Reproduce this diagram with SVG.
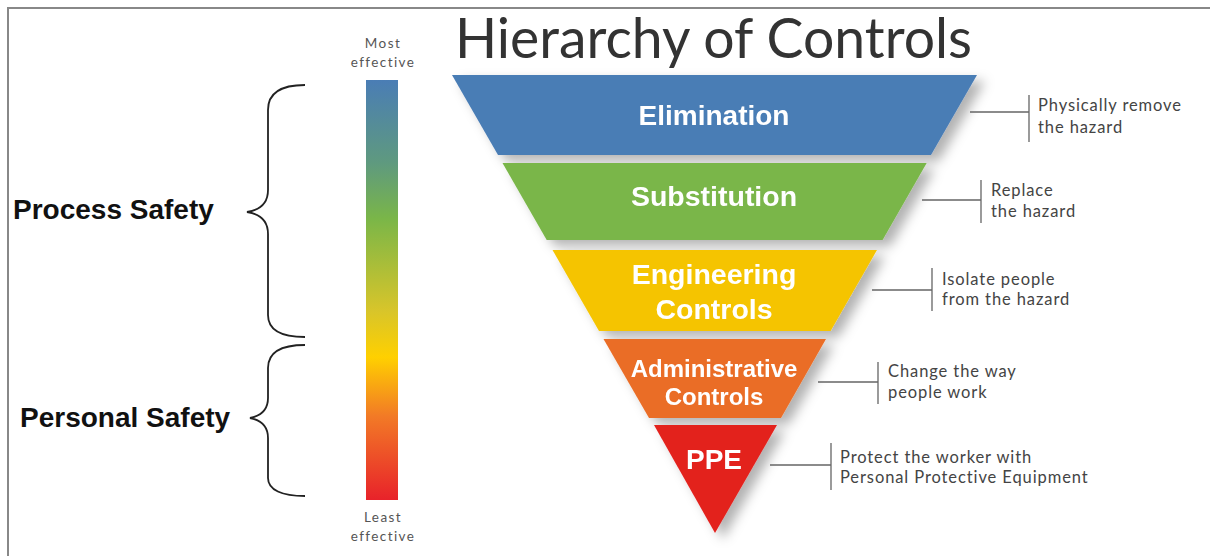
<svg xmlns="http://www.w3.org/2000/svg" width="1210" height="556" viewBox="0 0 1210 556">
<defs>
<linearGradient id="bar" x1="0" y1="0" x2="0" y2="1">
<stop offset="0" stop-color="#4a7db5"/>
<stop offset="0.2" stop-color="#5f9a7e"/>
<stop offset="0.33" stop-color="#7ab648"/>
<stop offset="0.55" stop-color="#d8c52a"/>
<stop offset="0.66" stop-color="#ffd000"/>
<stop offset="0.8" stop-color="#f27a26"/>
<stop offset="1" stop-color="#e8222a"/>
</linearGradient>
<filter id="shadow" x="-10%" y="-10%" width="130%" height="130%">
<feDropShadow dx="8" dy="6" stdDeviation="6" flood-color="#000" flood-opacity="0.3"/>
</filter>
</defs>
<style>
.band-label{font-family:"Liberation Sans",Arial,sans-serif;font-weight:bold;fill:#fff;text-anchor:middle}
.note{font-family:"Lato","Open Sans",sans-serif;font-size:16.5px;letter-spacing:0.9px;fill:#444}
.small{font-family:"Lato","Open Sans",sans-serif;font-size:13.5px;letter-spacing:1.4px;fill:#555;text-anchor:middle}
.side{font-family:"Liberation Sans",Arial,sans-serif;font-weight:bold;font-size:28px;fill:#111}
.lead{stroke:#666;stroke-width:1.3;fill:none}
.brace{stroke:#222;stroke-width:1.8;fill:none}
</style>
<rect width="1210" height="556" fill="#fff"/>
<path d="M8,556 L8,8 L1210,8" fill="none" stroke="#888" stroke-width="2"/>

<g id="title">
<text x="455" y="58" font-family="Lato,'Open Sans',sans-serif" font-size="56" fill="#333" textLength="517" lengthAdjust="spacingAndGlyphs">Hierarchy of Controls</text>
</g>

<g id="effectiveness-bar">
<text class="small" x="383" y="48">Most</text>
<text class="small" x="383" y="67">effective</text>
<rect x="366" y="80" width="32" height="420" fill="url(#bar)"/>
<text class="small" x="383" y="522">Least</text>
<text class="small" x="383" y="541">effective</text>
</g>

<g id="process-safety">
<path class="brace" d="M305,85 C282,85 268,92 268,110 L268,190 C268,203 260,210 247,212 C260,214 268,221 268,234 L268,315 C268,330 282,337 305,337"/>
<text class="side" x="13" y="219">Process Safety</text>
</g>
<g id="personal-safety">
<path class="brace" d="M305,345 C282,345 268,352 268,368 L268,398 C268,410 260,416 250,418 C260,420 268,426 268,438 L268,478 C268,490 282,496 305,496"/>
<text class="side" x="20" y="427">Personal Safety</text>
</g>

<g id="pyramid" filter="url(#shadow)">
<g id="elimination">
<polygon points="452,75 977,75 931,155 498,155" fill="#4a7db5"/>
<text class="band-label" x="714" y="125" font-size="28">Elimination</text>
</g>
<g id="substitution">
<polygon points="502.5,163 926.7,163 882.6,240 546.7,240" fill="#7ab648"/>
<text class="band-label" x="714" y="206" font-size="28.5">Substitution</text>
</g>
<g id="engineering">
<polygon points="552.5,250 877,250 830.6,331 599,331" fill="#f5c400"/>
<text class="band-label" x="714" y="284" font-size="28.5">Engineering</text>
<text class="band-label" x="714" y="319" font-size="28.5">Controls</text>
</g>
<g id="administrative">
<polygon points="603.5,339 826,339 781,418 649,418" fill="#ea6d26"/>
<text class="band-label" x="714" y="377" font-size="24">Administrative</text>
<text class="band-label" x="714" y="405" font-size="24">Controls</text>
</g>
<g id="ppe">
<polygon points="654,425 777,425 715,533" fill="#e3221f"/>
<text class="band-label" x="714" y="469" font-size="28">PPE</text>
</g>
</g>

<g id="connectors">
<path class="lead" d="M970,112 H1029 M1029,95 V142"/>
<path class="lead" d="M922,200 H981 M981,180 V223"/>
<path class="lead" d="M872,290 H932 M932,268 V311"/>
<path class="lead" d="M818,382 H878 M878,362 V404"/>
<path class="lead" d="M770,465 H831 M831,443 V490"/>
</g>

<g id="notes">
<text class="note" x="1038" y="111">Physically remove</text>
<text class="note" x="1038" y="133">the hazard</text>
<text class="note" x="991" y="196">Replace</text>
<text class="note" x="991" y="217">the hazard</text>
<text class="note" x="942" y="285">Isolate people</text>
<text class="note" x="942" y="305">from the hazard</text>
<text class="note" x="888" y="377">Change the way</text>
<text class="note" x="888" y="398">people work</text>
<text class="note" x="840" y="463">Protect the worker with</text>
<text class="note" x="840" y="483">Personal Protective Equipment</text>
</g>
</svg>
